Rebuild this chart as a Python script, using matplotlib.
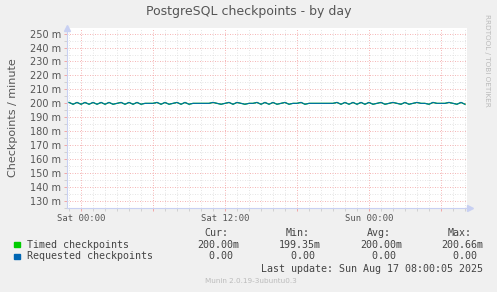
import numpy as np
import matplotlib
matplotlib.use("Agg")
import matplotlib.pyplot as plt
from matplotlib.ticker import MultipleLocator, FixedLocator

# Timed checkpoints per minute (milli units), one value every 20 minutes
timed = [
    200.66, 199.35, 200.66, 199.35, 200.66, 199.35, 200.66, 199.35, 200.66, 199.35,
    200.66, 199.35, 200.00, 200.66, 199.35, 200.66, 199.35, 200.66, 199.35, 200.00,
    200.00, 200.00, 200.66, 199.35, 200.66, 199.35, 200.00, 200.66, 199.35, 200.66,
    199.35, 200.00, 200.00, 200.00, 200.00, 200.00, 200.66, 200.00, 199.35, 200.00,
    200.66, 199.35, 200.66, 200.00, 199.35, 200.00, 200.00, 200.66, 199.35, 200.66,
    199.35, 200.66, 199.35, 200.00, 200.66, 199.35, 200.00, 200.00, 200.66, 199.35,
    200.00, 200.00, 200.00, 200.00, 200.00, 200.00, 200.00, 200.66, 199.35, 200.66,
    199.35, 200.66, 199.35, 200.66, 199.35, 200.66, 199.35, 200.00, 200.66, 199.35,
    200.00, 200.66, 200.00, 199.35, 200.66, 199.35, 200.00, 200.66, 200.00, 200.00,
    199.35, 200.66, 200.00, 200.00, 200.00, 200.66, 200.00, 199.35, 200.66, 199.35,
]
requested = [0.0] * len(timed)

# hours relative to Sat 00:00
hours = -1.0 + np.arange(len(timed)) / 3.0

series_names = ["Timed checkpoints", "Requested checkpoints"]
series_colors = ["#00cc00", "#0066b3"]
cur_vals = ["200.00m", "  0.00 "]
min_vals = ["199.35m", "  0.00 "]
avg_vals = ["200.00m", "  0.00 "]
max_vals = ["200.66m", "  0.00 "]

xtick_pos = [0, 6, 12, 18, 24, 30]
xtick_labels = ["Sat 00:00", "", "Sat 12:00", "", "Sun 00:00", ""]

W, H = 497, 292
fig = plt.figure(figsize=(W / 100, H / 100), dpi=100)
fig.patch.set_facecolor("#f0f0f0")

mono = "DejaVu Sans Mono"
left, right, top, bottom = 67, 467, 28, 208
ax = fig.add_axes([left / W, 1 - bottom / H, (right - left) / W, (bottom - top) / H])
ax.set_facecolor("white")

ax.set_xlim(-1.17, 32.17)
ax.set_ylim(125, 254)

ax.xaxis.set_major_locator(FixedLocator(xtick_pos))
ax.xaxis.set_minor_locator(MultipleLocator(1))
ax.set_xticklabels(xtick_labels, family=mono, fontsize=6.4)
ax.yaxis.set_major_locator(MultipleLocator(10))
ax.yaxis.set_minor_locator(MultipleLocator(5))
ax.yaxis.set_major_formatter(lambda v, p: f"{v:.0f} m")

ax.grid(which="minor", color="#dcdcdc", linestyle=(0, (1, 2)), linewidth=0.6)
ax.grid(which="major", color="#f29a9a", linestyle=(0, (1, 2)), linewidth=0.6)
ax.set_axisbelow(True)

ax.tick_params(which="both", length=2, width=0.6, color="#f29a9a", labelcolor="#555555")
ax.tick_params(axis="y", labelsize=7, pad=2.5)
ax.tick_params(axis="x", pad=2)
ax.tick_params(which="minor", color="#cccccc")

for s in ["top", "right"]:
    ax.spines[s].set_visible(False)
for s in ["left", "bottom"]:
    ax.spines[s].set_color("#c8d0f2")
    ax.spines[s].set_linewidth(0.8)
ax.plot([1.008], [0], marker=">", color="#c8d0f2", markersize=4,
        transform=ax.transAxes, clip_on=False)
ax.plot([0], [1.0], marker="^", color="#c8d0f2", markersize=4,
        transform=ax.transAxes, clip_on=False)

stacked = np.array(timed) + np.array(requested)
ax.plot(hours, timed, color=series_colors[0], linewidth=0.9)
ax.plot(hours, stacked, color=series_colors[1], linewidth=0.75)

ax.set_ylabel("Checkpoints / minute", fontsize=8, color="#555555", labelpad=8)

fig.text(0.5, 1 - 12 / H, "PostgreSQL checkpoints - by day", ha="center", va="center",
         fontsize=9, color="#555555")
fig.text(487 / W, 1 - 60 / H, "RRDTOOL / TOBI OETIKER", rotation=270, ha="center",
         va="center", fontsize=5.2, color="#bbbbbb")

fs = 7.2
tc = "#444444"
fig.text(204 / W, 1 - 233 / H, "Cur:", family=mono, fontsize=fs, color=tc, va="center")
fig.text(286 / W, 1 - 233 / H, "Min:", family=mono, fontsize=fs, color=tc, va="center")
fig.text(367 / W, 1 - 233 / H, "Avg:", family=mono, fontsize=fs, color=tc, va="center")
fig.text(448 / W, 1 - 233 / H, "Max:", family=mono, fontsize=fs, color=tc, va="center")

row_y = [244.7, 256.3]
for i, name in enumerate(series_names):
    y = 1 - row_y[i] / H
    fig.patches.append(plt.Rectangle((14 / W, 1 - (row_y[i] + 2.5) / H), 5.5 / W, 5 / H,
                                     transform=fig.transFigure, color=series_colors[i]))
    fig.text(27 / W, y, name, family=mono, fontsize=fs, color=tc, va="center")
    fig.text(197 / W, y, cur_vals[i], family=mono, fontsize=fs, color=tc, va="center")
    fig.text(279 / W, y, min_vals[i], family=mono, fontsize=fs, color=tc, va="center")
    fig.text(360 / W, y, avg_vals[i], family=mono, fontsize=fs, color=tc, va="center")
    fig.text(441 / W, y, max_vals[i], family=mono, fontsize=fs, color=tc, va="center")

fig.text(483 / W, 1 - 268.5 / H, "Last update: Sun Aug 17 08:00:05 2025", family=mono,
         fontsize=fs, color=tc, va="center", ha="right")
fig.text(251 / W, 1 - 281 / H, "Munin 2.0.19-3ubuntu0.3", ha="center", va="center",
         fontsize=5.2, color="#bbbbbb")

fig.savefig("out.png", dpi=100, facecolor=fig.get_facecolor())
